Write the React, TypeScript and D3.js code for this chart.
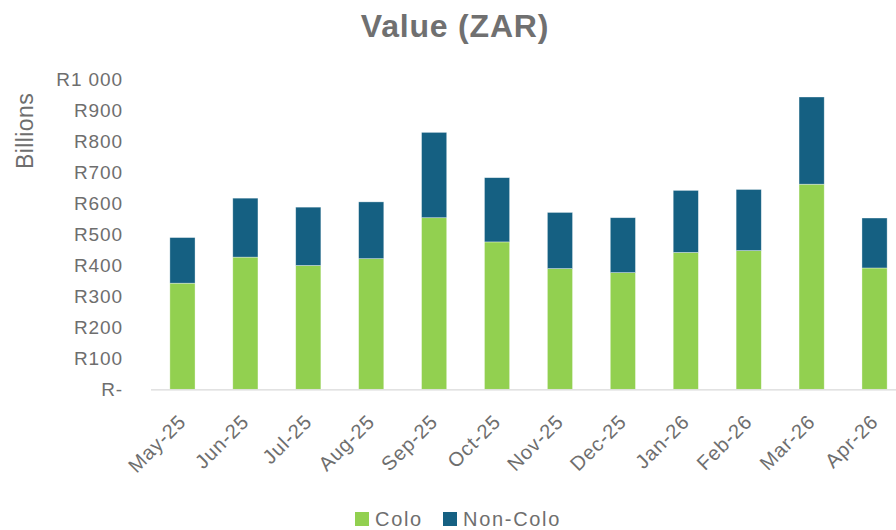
import React from "react";
import * as d3 from "d3";

const months = ["May-25","Jun-25","Jul-25","Aug-25","Sep-25","Oct-25","Nov-25","Dec-25","Jan-26","Feb-26","Mar-26","Apr-26"];
const colo = [342, 426, 399, 421, 553, 475, 389, 376, 441, 447, 661, 391];
const totals = [489, 616, 587, 604, 828, 682, 570, 553, 641, 644, 942, 552];
const nonColo = totals.map((t, i) => t - colo[i]);
const yTicks = [0, 100, 200, 300, 400, 500, 600, 700, 800, 900, 1000];
const seriesNames = ["Colo", "Non-Colo"];
const seriesColors = ["#92D050", "#156082"];

const W = 896, H = 530;
const FONT = "'Liberation Sans', Arial, sans-serif";
const TXT = "#6e6e6e";

function fmt(v: number) {
  if (v === 0) return "R-";
  if (v >= 1000) return "R" + d3.format(",")(v).replace(/,/g, " ");
  return "R" + v;
}

export default function App() {
  const x = d3.scaleBand<string>().domain(months).range([151, 906]).paddingInner(0.6).paddingOuter(0.3);
  const y = d3.scaleLinear().domain([0, 1000]).range([389.3, 79]);
  const rows = months.map((m, i) => ({ m, colo: colo[i], non: nonColo[i] }));
  const stack = d3.stack<any>().keys(["colo", "non"])(rows);
  const bw = x.bandwidth();
  return (
    <div style={{ position: "absolute", left: 0, top: 0 }}>
      <svg width={W} height={H} style={{ display: "block", background: "#fff" }}>
        <text x={455} y={37} textAnchor="middle" fontFamily={FONT} fontWeight={700} fontSize={32} letterSpacing={0.8} fill="#707070">
          Value (ZAR)
        </text>
        <text transform={`translate(33,131) rotate(-90)`} textAnchor="middle" fontFamily={FONT} fontSize={23} letterSpacing={0.4} fill={TXT}>
          Billions
        </text>
        {yTicks.map((t) => (
          <text key={t} x={123} y={y(t)} dy="0.36em" textAnchor="end" fontFamily={FONT} fontSize={19} letterSpacing={0.9} fill={TXT}>
            {fmt(t)}
          </text>
        ))}
        {stack.map((s, si) => (
          <g key={si} fill={seriesColors[si]}>
            {s.map((d, i) => (
              <rect key={i} x={x(months[i])!} width={bw} y={y(d[1])} height={y(d[0]) - y(d[1])}
                stroke="#ffffff" strokeOpacity={0.5} strokeWidth={0.7} />
            ))}
          </g>
        ))}
        <line x1={151} x2={906} y1={389.8} y2={389.8} stroke="#d9d9d9" strokeWidth={1.3} />
        {months.map((m) => {
          const cx = x(m)! + bw / 2 - 5;
          return (
            <text key={m} transform={`translate(${cx},413) rotate(-45)`} textAnchor="end" dy="0.7em"
              fontFamily={FONT} fontSize={20} letterSpacing={0.9} fill={TXT}>
              {m}
            </text>
          );
        })}
        {seriesNames.map((n, i) => {
          const lx = i === 0 ? 355 : 443;
          return (
            <g key={n}>
              <rect x={lx} y={512} width={14} height={14} fill={seriesColors[i]} />
              <text x={lx + 20} y={519} dy="0.36em" fontFamily={FONT} fontSize={20} letterSpacing={1.7} fill={TXT}>{n}</text>
            </g>
          );
        })}
      </svg>
    </div>
  );
}
